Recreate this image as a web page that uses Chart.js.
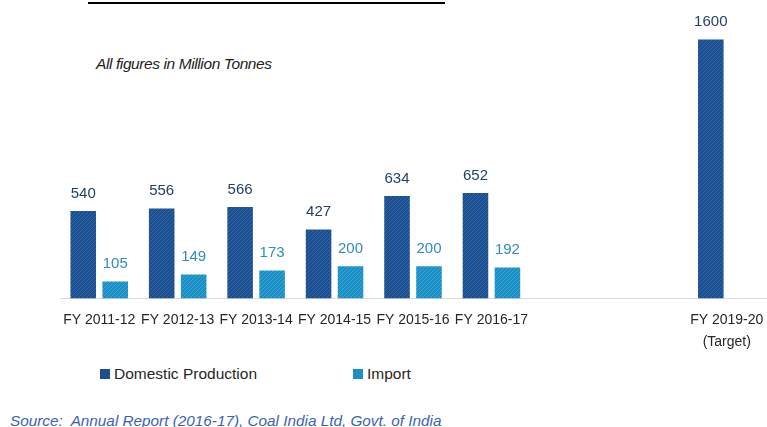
<!DOCTYPE html>
<html>
<head>
<meta charset="utf-8">
<script src="https://cdn.jsdelivr.net/npm/chart.js@4.4.0/dist/chart.umd.min.js"></script>
<style>
  body { margin: 0; background: #fff; width: 767px; height: 427px; overflow: hidden; position: relative; font-family: "Liberation Sans", Arial, sans-serif; }
  #wrap { position: absolute; left: 0; top: 0; width: 767px; height: 362px; }
  .title { position: absolute; left: 88px; top: -18px; width: 357px; font: bold 16px "Liberation Serif", serif; white-space: nowrap; color: #000; }
  .uline { position: absolute; left: 88px; top: 2px; width: 357px; height: 2px; background: #000; }
  .note { position: absolute; left: 96px; top: 55px; font: italic 15.5px "Liberation Sans", Arial, sans-serif; letter-spacing: -0.4px; color: #222; }
  .legend { position: absolute; top: 365px; font-size: 15.5px; color: #262626; display: flex; align-items: center; }
  .legend span.box { display: inline-block; width: 10px; height: 10px; margin-right: 4px; }
  .source { position: absolute; left: 10px; top: 412px; font: italic 15.3px "Liberation Sans", Arial, sans-serif; color: #3a62b8; white-space: nowrap; }
</style>
</head>
<body>
<div class="title">Figure 3: Coal Domestic Production and Import</div>
<div class="uline"></div>
<div class="note">All figures in Million Tonnes</div>
<div id="wrap"><canvas id="canvasCoal"></canvas></div>
<div class="legend" style="left:100px"><span class="box" style="background:#1d4f8f"></span>Domestic Production</div>
<div class="legend" style="left:353px"><span class="box" style="background:#1b8fc4"></span>Import</div>
<div class="source">Source:&nbsp; Annual Report (2016-17), Coal India Ltd, Govt. of India</div>

<script>
// datos (millones de toneladas)
const categorias = [
    'FY 2011-12', 'FY 2012-13', 'FY 2013-14', 'FY 2014-15', 'FY 2015-16', 'FY 2016-17',
    '', '', ['FY 2019-20', '(Target)']
];
const produccionDomestica = [540, 556, 566, 427, 634, 652, null, null, 1600];
const importacion = [105, 149, 173, 200, 200, 192, null, null, null];

const colorDomestico = '#1d4f8f';
const colorImport = '#1b8fc4';

// patrón rayado diagonal para las barras
function rayado(base, linea) {
    const c = document.createElement('canvas');
    c.width = 4; c.height = 4;
    const g = c.getContext('2d');
    g.fillStyle = base;
    g.fillRect(0, 0, 4, 4);
    g.strokeStyle = linea;
    g.lineWidth = 1;
    g.beginPath();
    g.moveTo(0, 4); g.lineTo(4, 0);
    g.moveTo(-1, 1); g.lineTo(1, -1);
    g.moveTo(3, 5); g.lineTo(5, 3);
    g.stroke();
    return g.createPattern(c, 'repeat');
}

// etiquetas de valor encima de cada barra
const etiquetasValor = {
    id: 'etiquetasValor',
    afterDatasetsDraw(chart) {
        const ctx = chart.ctx;
        ctx.save();
        ctx.font = '15px "Liberation Sans", Arial, sans-serif';
        ctx.textAlign = 'center';
        ctx.textBaseline = 'bottom';
        chart.data.datasets.forEach((ds, i) => {
            ctx.fillStyle = ds.labelColor;
            chart.getDatasetMeta(i).data.forEach((bar, j) => {
                const v = ds.data[j];
                if (v == null) return;
                ctx.fillText(v, bar.x, bar.y - 10);
            });
        });
        ctx.restore();
    }
};

new Chart(document.getElementById('canvasCoal'), {
    type: 'bar',
    data: {
        labels: categorias,
        datasets: [
            {
                label: 'Domestic Production',
                data: produccionDomestica,
                backgroundColor: rayado(colorDomestico, '#2d66ad'),
                labelColor: '#243f66'
            },
            {
                label: 'Import',
                data: importacion,
                backgroundColor: rayado(colorImport, '#3aa6d8'),
                labelColor: '#2f8cc4'
            }
        ]
    },
    options: {
        responsive: true,
        maintainAspectRatio: false,
        animation: false,
        layout: { padding: { left: 60, right: 1, top: 7, bottom: 6 } },
        plugins: { legend: { display: false }, tooltip: { enabled: false } },
        datasets: { bar: { categoryPercentage: 0.815, barPercentage: 0.8 } },
        scales: {
            x: {
                grid: { display: false },
                border: { display: true, color: '#d9d9d9' },
                ticks: {
                    autoSkip: false, maxRotation: 0, padding: 3, color: '#262626',
                    font: { size: 14, family: '"Liberation Sans", Arial, sans-serif', lineHeight: 1.55 }
                }
            },
            y: { display: false, min: 0, max: 1800 }
        }
    },
    plugins: [etiquetasValor]
});
</script>
</body>
</html>
